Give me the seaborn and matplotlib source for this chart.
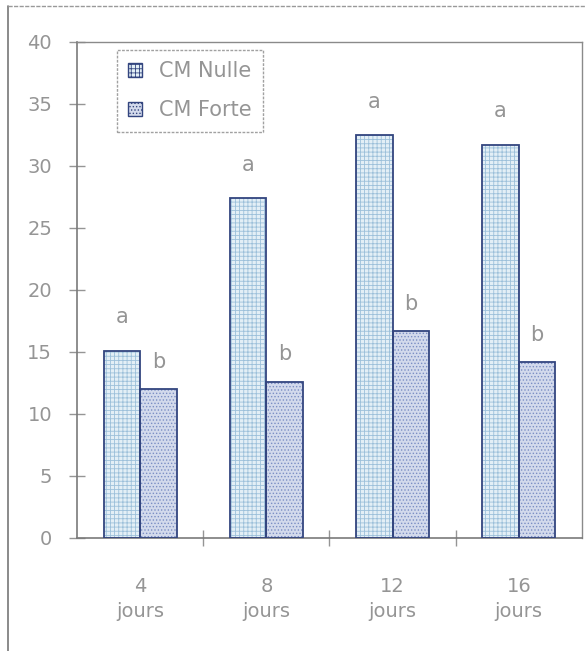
import pandas as pd
import matplotlib
matplotlib.use("Agg")
import matplotlib.pyplot as plt
from matplotlib.patches import Patch, Rectangle
from matplotlib.lines import Line2D
import seaborn as sns

# données
jours = ["4\njours", "8\njours", "12\njours", "16\njours"]
cm_nulle = [15.1, 27.4, 32.5, 31.7]
cm_forte = [12.0, 12.6, 16.7, 14.2]
lettres_nulle = ["a", "a", "a", "a"]
lettres_forte = ["b", "b", "b", "b"]
series = ["CM Nulle", "CM Forte"]
yticks = [0, 5, 10, 15, 20, 25, 30, 35, 40]

df = pd.DataFrame({
    "jour": jours * 2,
    "valeur": cm_nulle + cm_forte,
    "traitement": [series[0]] * len(jours) + [series[1]] * len(jours),
})

sns.set_style("white")
plt.rcParams["font.family"] = ["DejaVu Sans"]
plt.rcParams["hatch.linewidth"] = 0.6

gris = "#959595"
marine = "#33457f"
fonds = ["#e3eff6", "#d3daec"]
hachures = ["++++", "....."]
couleurs_hach = ["#9cc0da", "#7b8ec4"]

fig = plt.figure(figsize=(5.86, 6.51), dpi=100)
ax = fig.add_axes([0.1314, 0.1736, 0.8616, 0.7619])

sns.barplot(data=df, x="jour", y="valeur", hue="traitement", palette=fonds,
            width=0.58, gap=0, saturation=1, legend=False, ax=ax)

# hachures claires + contour foncé, et lettres de significativité
lettres = [lettres_nulle, lettres_forte]
decal = [2.7, 2.2]
for i, cont in enumerate(ax.containers):
    for j, p in enumerate(cont.patches):
        p.set_hatch(hachures[i])
        p.set_edgecolor(couleurs_hach[i])
        p.set_linewidth(0)
        ax.add_patch(Rectangle((p.get_x(), p.get_y()), p.get_width(), p.get_height(),
                               fill=False, edgecolor=marine, linewidth=1.3, zorder=3))
        ax.text(p.get_x() + p.get_width() / 2, p.get_height() + decal[i], lettres[i][j],
                ha="center", va="center", fontsize=15, color=gris)

ax.set_ylim(0, 40)
ax.set_xlim(-0.5, len(jours) - 0.5)
ax.set_yticks(yticks)
ax.set_xlabel("")
ax.set_ylabel("")

ax.set_xticks([k + 0.5 for k in range(len(jours) - 1)], minor=True)
ax.tick_params(axis="x", which="major", length=0, pad=28, labelsize=14, labelcolor=gris)
ax.tick_params(axis="x", which="minor", direction="inout", length=12, width=1, color=gris, bottom=True)
ax.tick_params(axis="y", direction="inout", length=12, width=1, color=gris, pad=12,
               labelsize=14, labelcolor=gris, left=True)
for lab in ax.get_xticklabels():
    lab.set_linespacing(1.4)

for s in ["left", "bottom"]:
    ax.spines[s].set_color("#7a7a7a")
    ax.spines[s].set_linewidth(1.2)
for s in ["top", "right"]:
    ax.spines[s].set_color("#8a8a8a")
    ax.spines[s].set_linewidth(1.0)
    ax.spines[s].set_linestyle((0, (2, 1)))

handles = [Patch(facecolor=fonds[i], edgecolor=marine, hatch=hachures[i], linewidth=1) for i in range(2)]
leg = ax.legend(handles, series, loc="upper left", bbox_to_anchor=(0.079, 0.984),
                borderaxespad=0, frameon=True, fancybox=False, fontsize=15,
                handlelength=0.65, handleheight=0.65, handletextpad=0.8,
                labelspacing=0.9, borderpad=0.55, labelcolor=gris)
leg.get_frame().set_edgecolor("#8a8a8a")
leg.get_frame().set_linestyle((0, (2, 1)))
leg.get_frame().set_linewidth(1.0)

# cadre extérieur
fig.add_artist(Line2D([0.0137, 0.0137], [0.0, 0.991], color="#777777", linewidth=1.2))
fig.add_artist(Line2D([0.0137, 1.0], [0.991, 0.991], color="#999999", linewidth=1.0,
                      linestyle=(0, (3, 1))))

fig.savefig("out.png", dpi=100)
